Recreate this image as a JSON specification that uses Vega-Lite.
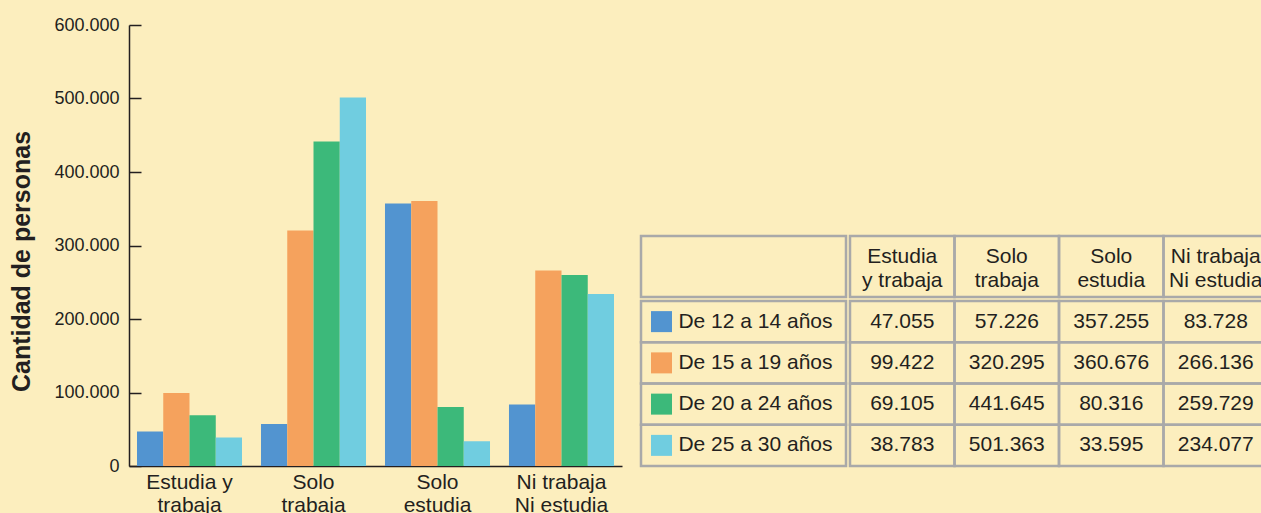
{
  "$schema": "https://vega.github.io/schema/vega-lite/v6.json",
  "background": "#FCEEBE",
  "padding": {"left": 9, "top": 16, "right": 0, "bottom": 0},
  "config": {
    "view": {"stroke": null},
    "font": "Liberation Sans",
    "locale": {"number": {"decimal": ",", "thousands": ".", "grouping": [3], "currency": ["$", ""]}},
    "axis": {"labelColor": "#231F20", "titleColor": "#231F20", "domainColor": "#231F20", "tickColor": "#231F20", "labelFont": "Liberation Sans", "titleFont": "Liberation Sans"}
  },
  "datasets": {
    "datos": [
      {"categoria": "Estudia y\ntrabaja", "edad": "De 12 a 14 años", "personas": 47055},
      {"categoria": "Estudia y\ntrabaja", "edad": "De 15 a 19 años", "personas": 99422},
      {"categoria": "Estudia y\ntrabaja", "edad": "De 20 a 24 años", "personas": 69105},
      {"categoria": "Estudia y\ntrabaja", "edad": "De 25 a 30 años", "personas": 38783},
      {"categoria": "Solo\ntrabaja", "edad": "De 12 a 14 años", "personas": 57226},
      {"categoria": "Solo\ntrabaja", "edad": "De 15 a 19 años", "personas": 320295},
      {"categoria": "Solo\ntrabaja", "edad": "De 20 a 24 años", "personas": 441645},
      {"categoria": "Solo\ntrabaja", "edad": "De 25 a 30 años", "personas": 501363},
      {"categoria": "Solo\nestudia", "edad": "De 12 a 14 años", "personas": 357255},
      {"categoria": "Solo\nestudia", "edad": "De 15 a 19 años", "personas": 360676},
      {"categoria": "Solo\nestudia", "edad": "De 20 a 24 años", "personas": 80316},
      {"categoria": "Solo\nestudia", "edad": "De 25 a 30 años", "personas": 33595},
      {"categoria": "Ni trabaja\nNi estudia", "edad": "De 12 a 14 años", "personas": 83728},
      {"categoria": "Ni trabaja\nNi estudia", "edad": "De 15 a 19 años", "personas": 266136},
      {"categoria": "Ni trabaja\nNi estudia", "edad": "De 20 a 24 años", "personas": 259729},
      {"categoria": "Ni trabaja\nNi estudia", "edad": "De 25 a 30 años", "personas": 234077}
    ],
    "encabezados": [
      {"categoria": "Estudia y\ntrabaja", "encabezado": "Estudia\ny trabaja"},
      {"categoria": "Solo\ntrabaja", "encabezado": "Solo\ntrabaja"},
      {"categoria": "Solo\nestudia", "encabezado": "Solo\nestudia"},
      {"categoria": "Ni trabaja\nNi estudia", "encabezado": "Ni trabaja\nNi estudia"}
    ],
    "edades": [
      {"edad": "De 12 a 14 años"},
      {"edad": "De 15 a 19 años"},
      {"edad": "De 20 a 24 años"},
      {"edad": "De 25 a 30 años"}
    ],
    "vacio": [{"celda": "esquina"}]
  },
  "spacing": 17,
  "hconcat": [
    {
      "width": 493,
      "height": 441,
      "data": {"name": "datos"},
      "mark": {"type": "bar"},
      "encoding": {
        "x": {
          "field": "categoria", "type": "nominal",
          "sort": ["Estudia y\ntrabaja", "Solo\ntrabaja", "Solo\nestudia", "Ni trabaja\nNi estudia"],
          "scale": {"paddingInner": 0.153, "paddingOuter": 0.0645},
          "axis": {"title": null, "ticks": false, "labelAngle": 0, "labelFontSize": 21, "labelPadding": 5, "labelLineHeight": 23, "labelExpr": "split(datum.label, '\\n')", "domainWidth": 1.5}
        },
        "xOffset": {
          "field": "edad", "type": "nominal",
          "sort": ["De 12 a 14 años", "De 15 a 19 años", "De 20 a 24 años", "De 25 a 30 años"],
          "scale": {"paddingInner": 0, "paddingOuter": 0}
        },
        "y": {
          "field": "personas", "type": "quantitative",
          "scale": {"domain": [0, 600000], "nice": false},
          "axis": {"title": "Cantidad de personas", "titleFontSize": 25, "titleFontWeight": "bold", "titlePadding": 19, "titleY": 236, "values": [0, 100000, 200000, 300000, 400000, 500000, 600000], "format": ",d", "grid": false, "labelFontSize": 18, "tickSize": -12, "tickWidth": 1.5, "labelPadding": 22, "domainWidth": 1.5}
        },
        "color": {
          "field": "edad", "type": "nominal",
          "scale": {"domain": ["De 12 a 14 años", "De 15 a 19 años", "De 20 a 24 años", "De 25 a 30 años"], "range": ["#5294D0", "#F5A25D", "#3CB97A", "#70CDE0"]},
          "legend": null
        }
      }
    },
    {
      "spacing": 0,
      "vconcat": [
        {
          "width": 623,
          "height": 209,
          "data": {"name": "vacio"},
          "mark": {"type": "text"},
          "encoding": {}
        },
        {
          "spacing": 0,
          "hconcat": [
            {
              "width": 205,
              "height": 61,
              "data": {"name": "vacio"},
              "mark": {"type": "rect", "filled": false, "stroke": "#A9A9A9", "strokeWidth": 2.5},
              "encoding": {}
            },
            {
              "width": 418,
              "height": 61,
              "data": {"name": "encabezados"},
              "encoding": {
                "x": {"field": "categoria", "type": "nominal", "sort": ["Estudia y\ntrabaja", "Solo\ntrabaja", "Solo\nestudia", "Ni trabaja\nNi estudia"], "axis": null, "scale": {"paddingInner": 0, "paddingOuter": 0}}
              },
              "layer": [
                {"mark": {"type": "rect", "filled": false, "stroke": "#A9A9A9", "strokeWidth": 2.5}},
                {"mark": {"type": "text", "fontSize": 21, "fill": "#231F20", "lineBreak": "\n", "lineHeight": 24, "baseline": "middle", "dy": -10}, "encoding": {"text": {"field": "encabezado"}}}
              ]
            }
          ]
        },
        {
          "spacing": 0,
          "hconcat": [
            {
              "width": 205,
              "height": 165,
              "data": {"name": "edades"},
              "encoding": {
                "y": {"field": "edad", "type": "nominal", "sort": ["De 12 a 14 años", "De 15 a 19 años", "De 20 a 24 años", "De 25 a 30 años"], "axis": null, "scale": {"paddingInner": 0, "paddingOuter": 0}}
              },
              "layer": [
                {"mark": {"type": "rect", "filled": false, "stroke": "#A9A9A9", "strokeWidth": 2.5}},
                {
                  "mark": {"type": "square", "size": 441, "opacity": 1, "xOffset": -82},
                  "encoding": {
                    "color": {"field": "edad", "type": "nominal", "scale": {"domain": ["De 12 a 14 años", "De 15 a 19 años", "De 20 a 24 años", "De 25 a 30 años"], "range": ["#5294D0", "#F5A25D", "#3CB97A", "#70CDE0"]}, "legend": null}
                  }
                },
                {"mark": {"type": "text", "fontSize": 21, "fill": "#231F20", "dx": 12, "baseline": "middle"}, "encoding": {"text": {"field": "edad"}}}
              ]
            },
            {
              "width": 418,
              "height": 165,
              "data": {"name": "datos"},
              "encoding": {
                "x": {"field": "categoria", "type": "nominal", "sort": ["Estudia y\ntrabaja", "Solo\ntrabaja", "Solo\nestudia", "Ni trabaja\nNi estudia"], "axis": null, "scale": {"paddingInner": 0, "paddingOuter": 0}},
                "y": {"field": "edad", "type": "nominal", "sort": ["De 12 a 14 años", "De 15 a 19 años", "De 20 a 24 años", "De 25 a 30 años"], "axis": null, "scale": {"paddingInner": 0, "paddingOuter": 0}}
              },
              "layer": [
                {"mark": {"type": "rect", "filled": false, "stroke": "#A9A9A9", "strokeWidth": 2.5}},
                {"mark": {"type": "text", "fontSize": 21, "fill": "#231F20", "baseline": "middle"}, "encoding": {"text": {"field": "personas", "type": "quantitative", "format": ",d"}}}
              ]
            }
          ]
        }
      ]
    }
  ]
}
